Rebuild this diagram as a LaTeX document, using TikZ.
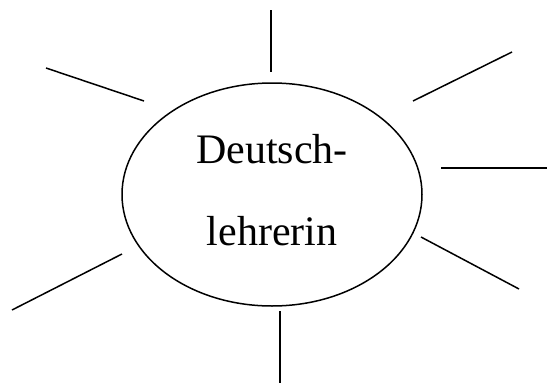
\documentclass[tikz,border=0pt]{standalone}
\usepackage{fontspec}
\setmainfont{Liberation Serif}
\usetikzlibrary{shapes.geometric}
\tikzset{strahl/.style={line width=1.5pt},
	wort/.style={anchor=base, inner sep=0pt, font=\fontsize{42}{50}\selectfont}}

\begin{document}
\begin{tikzpicture}[x=1pt, y=-1pt]
	\useasboundingbox (0,0) rectangle (547,383);
	\node[draw, ellipse, line width=1.5pt, inner sep=0pt,
		minimum width=300pt, minimum height=223pt] (kreis) at (272,194.5) {};
	\node[wort] (zeile1) at (272,163) {Deutsch-};
	\node[wort] (zeile2) at (272,245) {lehrerin};
	% Strahlen rund um die Ellipse
	\coordinate (oben1) at (271,10);        \coordinate (oben2) at (271,72);
	\coordinate (obenlinks1) at (46,68);    \coordinate (obenlinks2) at (144,101);
	\coordinate (obenrechts1) at (413,101); \coordinate (obenrechts2) at (512,52);
	\coordinate (rechts1) at (441,168);     \coordinate (rechts2) at (547,168);
	\coordinate (untenrechts1) at (421,237); \coordinate (untenrechts2) at (519,289);
	\coordinate (unten1) at (280,311);      \coordinate (unten2) at (280,383);
	\coordinate (untenlinks1) at (122,254); \coordinate (untenlinks2) at (12,310);
	\draw[strahl] (oben1) -- (oben2);
	\draw[strahl] (obenlinks1) -- (obenlinks2);
	\draw[strahl] (obenrechts1) -- (obenrechts2);
	\draw[strahl] (rechts1) -- (rechts2);
	\draw[strahl] (untenrechts1) -- (untenrechts2);
	\draw[strahl] (unten1) -- (unten2);
	\draw[strahl] (untenlinks1) -- (untenlinks2);
\end{tikzpicture}
\end{document}
